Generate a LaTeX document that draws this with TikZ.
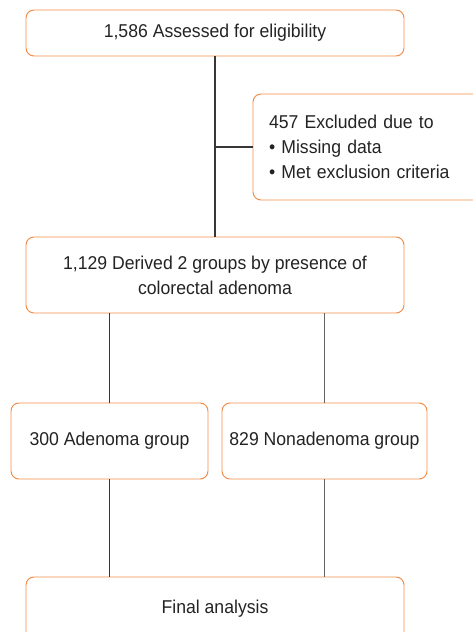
\documentclass[tikz,border=0pt]{standalone}
\usepackage{fontspec}
\setmainfont{Liberation Sans}[FakeStretch=0.95]
\definecolor{boxorange}{RGB}{241,141,72}
\definecolor{linegray}{RGB}{55,55,55}
\definecolor{lightlinegray}{RGB}{100,100,100}
\definecolor{textgray}{RGB}{35,35,35}
\newlength\px
\setlength\px{0.025cm}

\tikzset{
  box/.style={draw=boxorange, line width=0.7pt, rounded corners=8\px,
    rectangle, inner sep=0pt, text=textgray, align=center},
  link/.style={draw=linegray, line width=0.8pt},
  lightlink/.style={link, draw=lightlinegray}
}

\begin{document}
\begin{tikzpicture}[x=0.025cm, y=-0.025cm, font=\fontsize{13.2}{17.8}\selectfont]
    \useasboundingbox (0,0) rectangle (473,632);
    \clip (0,0) rectangle (473,632);

    \node[box, minimum width=378\px, minimum height=46\px] (assess) at (215,33)
      {1,586 Assessed for eligibility};
    \node[box, minimum width=230\px, minimum height=106\px, align=left,
      text width=198\px, inner xsep=16\px] (excl) at (368,147)
      {457 Excluded due to\\ • Missing data\\ • Met exclusion criteria};
    \node[box, minimum width=378\px, minimum height=76\px] (derived) at (215,275)
      {1,129 Derived 2 groups by presence of\\ colorectal adenoma};
    \node[box, minimum width=197\px, minimum height=76\px] (adenoma) at (109.5,441)
      {300 Adenoma group};
    \node[box, minimum width=205\px, minimum height=76\px] (nonadenoma) at (324.5,441)
      {829 Nonadenoma group};
    \node[box, minimum width=378\px, minimum height=64\px] (final) at (215,609)
      {Final analysis};

    \coordinate (split) at (assess.south |- excl.west);

    \draw[link] (assess) -- (derived);
    \draw[link] (split) -- (excl.west);
    \draw[link] (adenoma.north |- derived.south) -- (adenoma.north);
    \draw[lightlink] (nonadenoma.north |- derived.south) -- (nonadenoma.north);
    \draw[link] (adenoma.south) -- (adenoma.south |- final.north);
    \draw[lightlink] (nonadenoma.south) -- (nonadenoma.south |- final.north);
  \end{tikzpicture}
\end{document}
